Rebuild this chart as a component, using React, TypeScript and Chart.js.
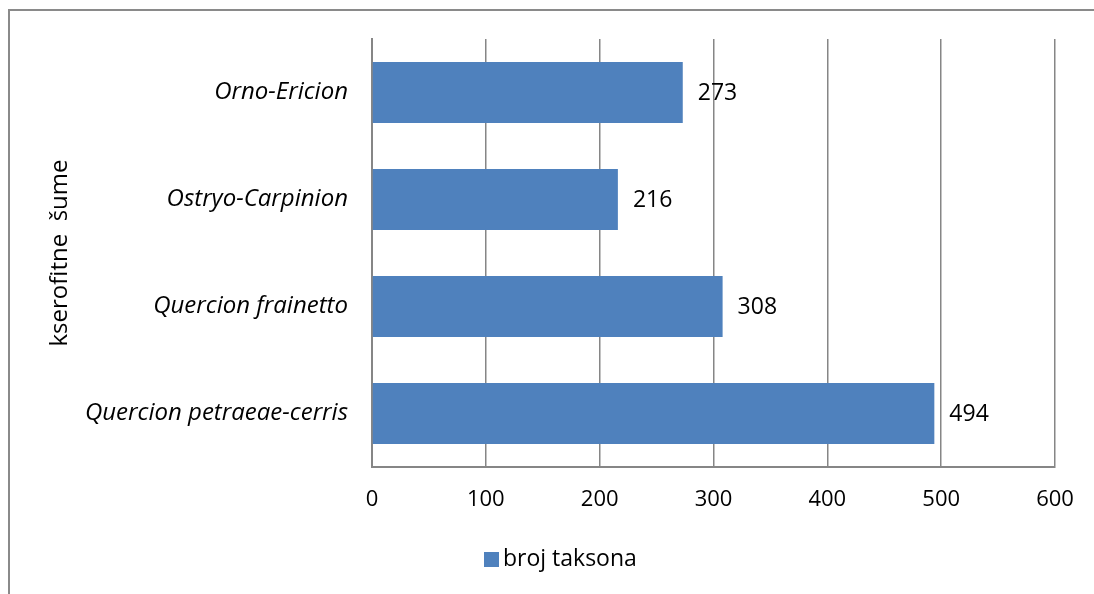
import React, { useEffect, useRef } from "react";
import { Chart, registerables } from "chart.js";

Chart.register(...registerables);

const categories = [
  "Orno-Ericion",
  "Ostryo-Carpinion",
  "Quercion frainetto",
  "Quercion petraeae-cerris",
];
const values = [273, 216, 308, 494];
const seriesLabel = "broj taksona";
const axisTitle = "kserofitne  šume";
const xMin = 0;
const xMax = 600;
const xStep = 100;

const FONT = "'Open Sans', 'Noto Sans', sans-serif";
const BAR_COLOR = "#4F81BD";
const GRID_COLOR = "#868686";

const framePlugin = {
  id: "frame",
  beforeDraw(chart: any) {
    const ctx = chart.ctx;
    ctx.save();
    ctx.fillStyle = "#fff";
    ctx.fillRect(0, 0, chart.width, chart.height);
    ctx.strokeStyle = "#8a8a8a";
    ctx.lineWidth = 2;
    ctx.beginPath();
    ctx.moveTo(9, chart.height + 5);
    ctx.lineTo(9, 10);
    ctx.lineTo(chart.width, 10);
    ctx.stroke();
    ctx.restore();
  },
};

const dataLabelPlugin = {
  id: "dataLabels",
  afterDatasetsDraw(chart: any) {
    const ctx = chart.ctx;
    ctx.save();
    ctx.font = `23px ${FONT}`;
    ctx.fillStyle = "#000";
    ctx.textAlign = "left";
    ctx.textBaseline = "middle";
    chart.data.datasets.forEach((ds: any, di: number) => {
      const meta = chart.getDatasetMeta(di);
      meta.data.forEach((el: any, i: number) => {
        ctx.fillText(String(ds.data[i]), el.x + 15, el.y + 1);
      });
    });
    ctx.restore();
  },
};

const legendPlugin = {
  id: "customLegend",
  afterDraw(chart: any) {
    const ctx = chart.ctx;
    const ds = chart.data.datasets[0];
    const boxX = 484;
    const boxY = 552;
    ctx.save();
    ctx.fillStyle = ds.backgroundColor;
    ctx.fillRect(boxX, boxY, 15, 15);
    ctx.font = `23px ${FONT}`;
    ctx.fillStyle = "#000";
    ctx.textAlign = "left";
    ctx.textBaseline = "middle";
    ctx.fillText(ds.label, boxX + 19, boxY + 7.5);
    ctx.restore();
  },
};

export default function App() {
  const ref = useRef<HTMLCanvasElement | null>(null);

  useEffect(() => {
    if (!ref.current) return;
    const chart = new Chart(ref.current, {
      type: "bar",
      data: {
        labels: categories,
        datasets: [
          {
            label: seriesLabel,
            data: values,
            backgroundColor: BAR_COLOR,
            borderWidth: 0,
            categoryPercentage: 1,
            barPercentage: 0.57,
          },
        ],
      },
      options: {
        indexAxis: "y",
        animation: false,
        responsive: false,
        maintainAspectRatio: false,
        layout: { padding: { top: 39, right: 39, left: 0, bottom: 0 } },
        plugins: {
          legend: { display: false },
          tooltip: { enabled: false },
        },
        scales: {
          x: {
            min: xMin,
            max: xMax,
            ticks: {
              stepSize: xStep,
              padding: 20,
              color: "#000",
              font: { family: FONT, size: 22 },
            },
            grid: {
              color: GRID_COLOR,
              lineWidth: 1.5,
              drawTicks: false,
            },
            border: { display: true, color: GRID_COLOR, width: 2 },
            afterFit(scale: any) {
              scale.height = 127;
            },
          },
          y: {
            ticks: {
              padding: 24,
              color: "#000",
              font: { family: FONT, size: 24, style: "italic" },
            },
            grid: { display: false, drawTicks: false },
            border: { display: true, color: GRID_COLOR, width: 2 },
            title: {
              display: true,
              text: axisTitle,
              color: "#000",
              font: { family: FONT, size: 24 },
              padding: { top: 46, bottom: 0 },
            },
            afterFit(scale: any) {
              scale.width = 372;
            },
          },
        },
      },
      plugins: [framePlugin, dataLabelPlugin, legendPlugin],
    });
    return () => chart.destroy();
  }, []);

  return (
    <div
      style={{
        position: "fixed",
        left: 0,
        top: 0,
        width: 1094,
        height: 594,
        overflow: "hidden",
        background: "#fff",
      }}
    >
      <canvas
        ref={ref}
        width={1094}
        height={594}
        style={{ display: "block", width: 1094, height: 594 }}
      />
    </div>
  );
}
